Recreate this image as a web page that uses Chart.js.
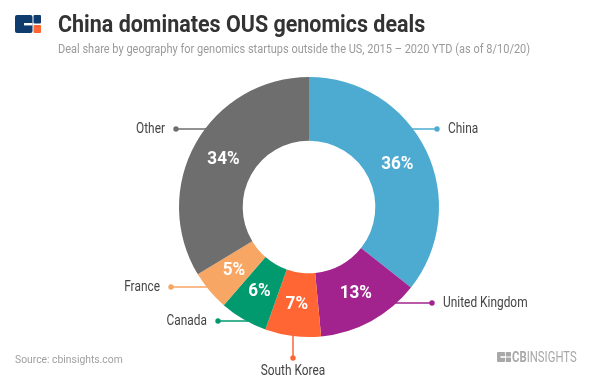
<!DOCTYPE html>
<html><head><meta charset="utf-8">
<script src="https://cdn.jsdelivr.net/npm/chart.js@4"></script>
<style>
html,body{margin:0;padding:0;background:#fff;width:600px;height:389px;overflow:hidden;font-family:Roboto,sans-serif;}
#wrap{position:absolute;left:0;top:0;width:600px;height:389px;}
.t{position:absolute;white-space:nowrap;transform-origin:0 0;line-height:1;}
#title{left:58px;top:12px;font-size:24px;font-weight:700;color:#333;transform:scaleX(0.895);}
#sub{left:58px;top:42.5px;font-size:12.5px;color:#9a9a9a;transform:scaleX(0.88);}
#src{left:15px;top:353.5px;font-size:11px;color:#a0a0a0;transform:scaleX(0.94);}
#brand{left:512px;top:350px;font-size:14px;color:#a8a8a8;transform:scaleX(0.81);}
</style></head>
<body>
<div id="wrap">
<canvas id="c" width="600" height="389"></canvas>
<svg style="position:absolute;left:15px;top:15px" width="26" height="18" viewBox="0 0 26 18">
<rect x="0" y="0" width="17.5" height="18" rx="2" fill="#0f3b6e"/>
<rect x="9" y="8" width="8.5" height="2.4" fill="#fff"/>
<rect x="18.5" y="0" width="7.5" height="8.6" rx="1" fill="#0f3b6e"/>
<rect x="18.5" y="10" width="7.5" height="8" rx="1" fill="#ff6634"/>
</svg>
<div class="t" id="title">China dominates OUS genomics deals</div>
<div class="t" id="sub">Deal share by geography for genomics startups outside the US, 2015 – 2020 YTD (as of 8/10/20)</div>
<div class="t" id="src">Source: cbinsights.com</div>
<svg style="position:absolute;left:497px;top:352px" width="14" height="10" viewBox="0 0 14 10">
<rect x="0" y="0" width="8" height="10" rx="1" fill="#a8a8a8"/>
<rect x="3.5" y="4.2" width="4.5" height="1.6" fill="#fff"/>
<rect x="8.8" y="0" width="5.2" height="4.6" rx="0.6" fill="#a8a8a8"/>
<rect x="8.8" y="5.4" width="5.2" height="4.6" rx="0.6" fill="#a8a8a8"/>
</svg>
<div class="t" id="brand"><b>CB</b>INSIGHTS</div>
</div>
<script>
const categories = ["China", "United Kingdom", "South Korea", "Canada", "France", "Other"];
const shares = [36, 13, 7, 6, 5, 34];
const percentLabels = ["36%", "13%", "7%", "6%", "5%", "34%"];
const colors = ["#4dabd2", "#a2238d", "#ff6634", "#009a6e", "#f7a663", "#6e6e6e"];

// leader layout (relative to chart centre)
const leaders = [
  {dir:"right", dy:-78, dotX:128},
  {dir:"right", dy:96, dotX:123},
  {dir:"down", dx:-16, dotY:151},
  {dir:"left", dy:114, dotX:-91},
  {dir:"left", dy:80, dotX:-138},
  {dir:"left", dy:-78, dotX:-133}
];

function condensedText(ctx, text, x, y, sx, align) {
  ctx.save();
  ctx.translate(x, y);
  ctx.scale(sx, 1);
  ctx.textAlign = align;
  ctx.fillText(text, 0, 0);
  ctx.restore();
}

const labelPlugin = {
  id: "labels",
  afterDatasetsDraw(chart) {
    const ctx = chart.ctx;
    const meta = chart.getDatasetMeta(0);
    meta.data.forEach((arc, i) => {
      const p = arc.getProps(["x","y","startAngle","endAngle","innerRadius","outerRadius"], true);
      const mid = (p.startAngle + p.endAngle) / 2;
      const rm = (p.innerRadius + p.outerRadius) / 2;
      ctx.fillStyle = "#fff";
      ctx.font = "700 19px Roboto";
      ctx.textBaseline = "middle";
      condensedText(ctx, percentLabels[i], p.x + Math.cos(mid) * rm, p.y + Math.sin(mid) * rm, 0.9, "center");

      const L = leaders[i], R = p.outerRadius;
      let x0, y0, x1, y1;
      if (L.dir === "down") {
        x0 = p.x + L.dx; y0 = p.y + Math.sqrt(R*R - L.dx*L.dx) - 2;
        x1 = x0; y1 = p.y + L.dotY;
      } else {
        const dx = Math.sqrt(R*R - L.dy*L.dy) - 2;
        y0 = y1 = p.y + L.dy;
        x0 = p.x + (L.dir === "right" ? dx : -dx);
        x1 = p.x + L.dotX;
      }
      ctx.strokeStyle = colors[i];
      ctx.lineWidth = 1.5;
      ctx.beginPath(); ctx.moveTo(x0, y0); ctx.lineTo(x1, y1); ctx.stroke();
      ctx.fillStyle = colors[i];
      ctx.beginPath(); ctx.arc(x1, y1, 2.7, 0, Math.PI*2); ctx.fill();
      ctx.fillStyle = "#444";
      ctx.font = "400 14px Roboto";
      ctx.textBaseline = "middle";
      if (L.dir === "right") condensedText(ctx, categories[i], x1 + 11, y1, 0.85, "left");
      else if (L.dir === "left") condensedText(ctx, categories[i], x1 - 11, y1, 0.85, "right");
      else condensedText(ctx, categories[i], x1, y1 + 13, 0.85, "center");
    });
  }
};

new Chart(document.getElementById("c"), {
  type: "doughnut",
  data: { labels: categories, datasets: [{ data: shares, backgroundColor: colors, borderWidth: 0 }] },
  options: {
    responsive: false,
    animation: false,
    cutout: "51%",
    layout: { padding: { left: 179, right: 161, top: 77, bottom: 52 } },
    plugins: { legend: { display: false }, tooltip: { enabled: false } }
  },
  plugins: [labelPlugin]
});
</script>
</body></html>
